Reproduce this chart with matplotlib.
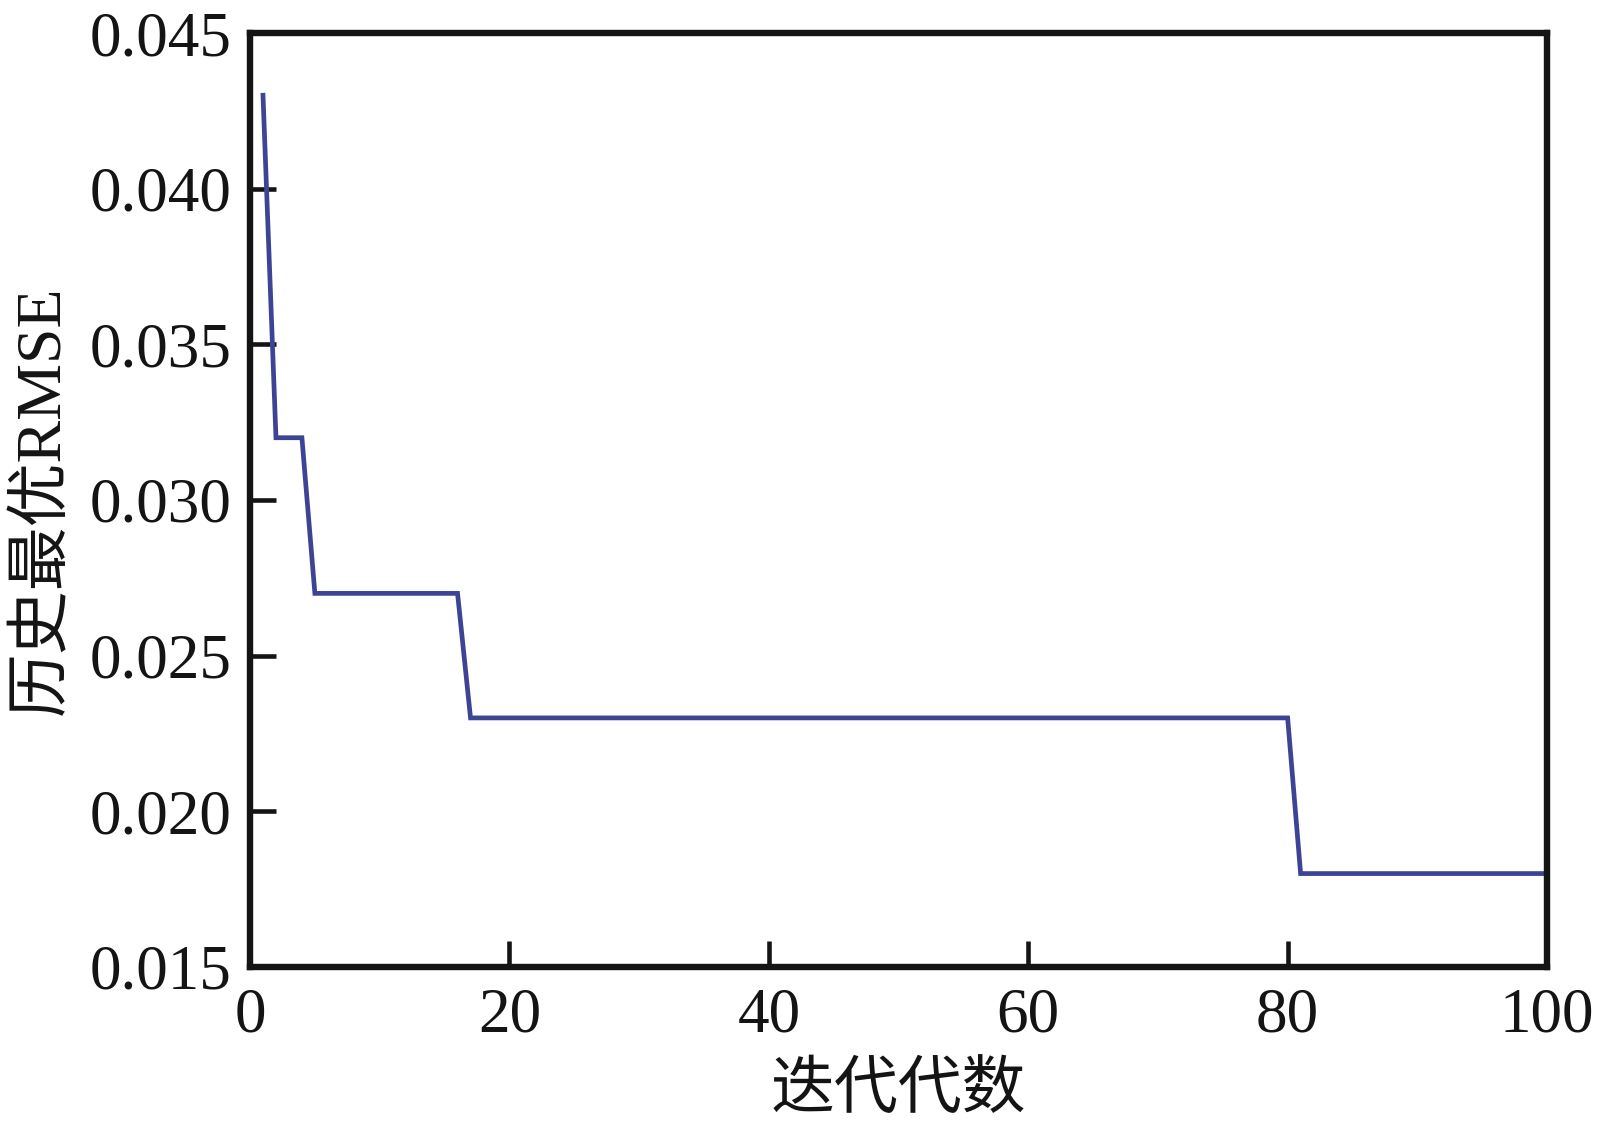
import matplotlib
matplotlib.use("Agg")
import matplotlib.pyplot as plt
from matplotlib.ticker import FormatStrFormatter

iterations = list(range(1, 101))
best_rmse = [0.043] + [0.032] * 3 + [0.027] * 12 + [0.023] * 64 + [0.018] * 20
x_ticks = [0, 20, 40, 60, 80, 100]
y_ticks = [0.015, 0.020, 0.025, 0.030, 0.035, 0.040, 0.045]
x_label = "迭代代数"
y_label = "历史最优RMSE"

plt.rcParams['font.family'] = ['Liberation Serif', 'Noto Sans CJK SC']

fig = plt.figure(figsize=(16.11, 11.38), dpi=100)
ax = fig.add_axes([0.1552, 0.1503, 0.8051, 0.8207])
ax.plot(iterations, best_rmse, color='#3d4495', linewidth=3.4, solid_joinstyle='miter')
ax.set_xlim(0, 100)
ax.set_ylim(0.015, 0.045)
ax.set_xticks(x_ticks)
ax.set_yticks(y_ticks)
ax.yaxis.set_major_formatter(FormatStrFormatter('%.3f'))
ax.tick_params(direction='in', length=19, width=3.3, labelsize=45.5, color='#141414', labelcolor='#141414')
ax.tick_params(axis='y', pad=13)
ax.tick_params(axis='x', pad=15)
for s in ax.spines.values():
    s.set_linewidth(4.6)
    s.set_color('#141414')
ax.set_xlabel(x_label, fontsize=46, family=['Noto Sans CJK SC'], color='#141414', labelpad=8)
ax.set_ylabel(y_label, fontsize=46, family=['Liberation Serif', 'Noto Sans CJK SC'], color='#141414', labelpad=12)
fig.savefig('out.png', dpi=100)
